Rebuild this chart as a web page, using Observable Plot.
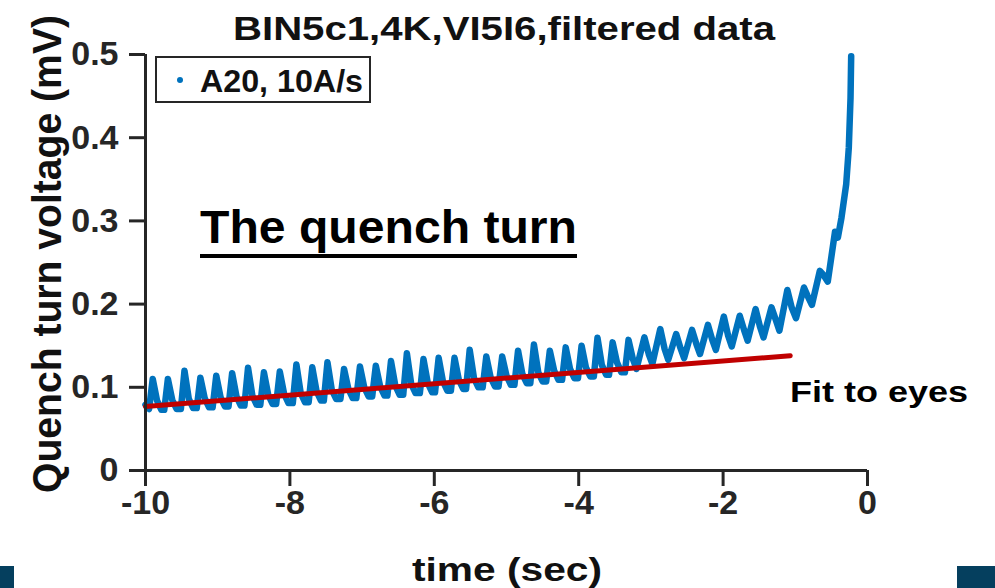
<!DOCTYPE html>
<html><head><meta charset="utf-8">
<script src="https://cdn.jsdelivr.net/npm/d3@7"></script>
<script src="https://cdn.jsdelivr.net/npm/@observablehq/plot@0.6"></script>
<style>
html,body{margin:0;padding:0;background:#fff;overflow:hidden;}
#wrap{position:relative;width:995px;height:588px;overflow:hidden;}
#wrap g[aria-label$="tick label"], #wrap g[aria-label$="tick label"] text {font-size:34px !important;font-weight:bold !important;font-family:'Liberation Sans', Arial, sans-serif !important;}
</style></head><body><div id="wrap"></div>
<script>
// ---- data ----
const xTicks = [-10, -8, -6, -4, -2, 0];
const yTicks = [0, 0.1, 0.2, 0.3, 0.4, 0.5];
const yTickLabels = ["0", "0.1", "0.2", "0.3", "0.4", "0.5"];

// A20, 10A/s — quench turn voltage (mV) vs time (s), vertices
const timeSec = [
-10.00, -9.95,
-9.90, -9.84, -9.78, -9.74,
-9.69, -9.63, -9.57, -9.51,
-9.46, -9.40, -9.34, -9.29,
-9.24, -9.18, -9.12, -9.07,
-9.02, -8.96, -8.90, -8.85,
-8.80, -8.74, -8.68, -8.63,
-8.58, -8.52, -8.46, -8.41,
-8.36, -8.30, -8.24, -8.19,
-8.14, -8.08, -8.02, -7.96,
-7.91, -7.85, -7.79, -7.74,
-7.69, -7.63, -7.57, -7.53,
-7.48, -7.42, -7.36, -7.30,
-7.25, -7.19, -7.13, -7.08,
-7.03, -6.97, -6.91, -6.86,
-6.81, -6.75, -6.69, -6.65,
-6.60, -6.54, -6.48, -6.43,
-6.38, -6.32, -6.26, -6.20,
-6.15, -6.09, -6.03, -5.99,
-5.94, -5.88, -5.82, -5.77,
-5.72, -5.66, -5.60, -5.56,
-5.51, -5.45, -5.39, -5.33,
-5.28, -5.22, -5.16, -5.11,
-5.06, -5.00, -4.94, -4.89,
-4.84, -4.78, -4.72, -4.67,
-4.62, -4.56, -4.50, -4.45,
-4.40, -4.34, -4.28, -4.23,
-4.18, -4.12, -4.06, -4.01,
-3.96, -3.90, -3.84, -3.79,
-3.74, -3.68, -3.62, -3.58,
-3.53, -3.47, -3.41, -3.36,
-3.31, -3.25, -3.20,
-3.09, -3.03, -2.98,
-2.87, -2.81, -2.76,
-2.65, -2.59, -2.54,
-2.43, -2.37, -2.32,
-2.21, -2.15, -2.10,
-1.99, -1.93, -1.88,
-1.77, -1.71, -1.66,
-1.55, -1.49, -1.44,
-1.33, -1.27, -1.22,
-1.11, -1.05, -0.99,
-0.88, -0.83, -0.77,
-0.66, -0.61, -0.55,
-0.45, -0.41, -0.36, -0.295, -0.259, -0.235, -0.226
];
const quenchMV = [
0.079, 0.074,
0.110, 0.084, 0.073, 0.073,
0.110, 0.085, 0.074, 0.074,
0.120, 0.086, 0.075, 0.075,
0.1115, 0.087, 0.076, 0.076,
0.114, 0.088, 0.077, 0.077,
0.117, 0.089, 0.078, 0.078,
0.1235, 0.090, 0.079, 0.079,
0.118, 0.091, 0.080, 0.080,
0.119, 0.092, 0.081, 0.081,
0.1275, 0.093, 0.082, 0.082,
0.124, 0.095, 0.084, 0.084,
0.130, 0.097, 0.086, 0.086,
0.122, 0.098, 0.087, 0.087,
0.125, 0.100, 0.089, 0.089,
0.126, 0.101, 0.090, 0.090,
0.1315, 0.102, 0.091, 0.091,
0.141, 0.104, 0.093, 0.093,
0.134, 0.105, 0.094, 0.094,
0.1355, 0.107, 0.096, 0.096,
0.1355, 0.109, 0.098, 0.098,
0.145, 0.111, 0.100, 0.100,
0.137, 0.112, 0.101, 0.101,
0.137, 0.114, 0.103, 0.103,
0.144, 0.116, 0.105, 0.105,
0.1515, 0.118, 0.107, 0.107,
0.144, 0.120, 0.109, 0.109,
0.148, 0.122, 0.111, 0.111,
0.150, 0.124, 0.113, 0.113,
0.1595, 0.127, 0.115, 0.115,
0.154, 0.130, 0.118, 0.118,
0.157, 0.134, 0.122,
0.160, 0.140, 0.128,
0.170, 0.146, 0.133,
0.164, 0.147, 0.135,
0.169, 0.152, 0.140,
0.175, 0.157, 0.145,
0.185, 0.162, 0.149,
0.186, 0.169, 0.156,
0.194, 0.173, 0.160,
0.196, 0.181, 0.168,
0.217, 0.196, 0.183,
0.220, 0.210, 0.199,
0.240, 0.235, 0.227,
0.287, 0.280, 0.304, 0.344, 0.388, 0.448, 0.498
];

// "Fit to eyes" straight line
const fitTime = [-10.0, -1.07];
const fitMV = [0.077, 0.138];

const seriesName = "A20, 10A/s";
const titleText = "BIN5c1,4K,VI5I6,filtered data";
const xLabel = "time (sec)";
const yLabel = "Quench turn voltage (mV)";
const noteQuench = "The quench turn";
const noteFit = "Fit to eyes";

// ---- chart ----
const F = "'Liberation Sans', Arial, Helvetica, sans-serif";
const INK = "#262626";
const data = timeSec.map((t, i) => ({t, v: quenchMV[i]}));
const fit = fitTime.map((t, i) => ({t, v: fitMV[i]}));

const plot = Plot.plot({
  width: 995, height: 588,
  marginLeft: 145, marginRight: 128, marginTop: 54, marginBottom: 118,
  style: {fontFamily: F, fontWeight: "bold", fontSize: "34px", color: INK, background: "#fff", overflow: "visible", maxWidth: "none"},
  x: {domain: [-10, 0]},
  y: {domain: [0, 0.5]},
  marks: [
    Plot.line(data, {x: "t", y: "v", stroke: "#0072BD", strokeWidth: 6.5, strokeLinejoin: "round", strokeLinecap: "round"}),
    Plot.line(fit, {x: "t", y: "v", stroke: "#C00000", strokeWidth: 5}),
    Plot.axisX({ticks: xTicks, tickFormat: d => String(d), tickSize: 16, tickPadding: 3, strokeWidth: 3, stroke: INK, label: null}),
    Plot.axisY({ticks: yTicks, tickFormat: d => yTickLabels[yTicks.indexOf(d)], tickSize: 16, tickPadding: 11, strokeWidth: 3, stroke: INK, label: null}),
    Plot.ruleX([-10], {stroke: INK, strokeWidth: 3}),
    Plot.ruleY([0], {stroke: INK, strokeWidth: 3})
  ]
});
document.getElementById("wrap").appendChild(plot);

// ---- annotations, labels, legend ----
const svg = d3.select(plot);
function txt(s, x, y, size, len, anchor, fill, transform) {
  const t = svg.append("text").text(s)
    .style("font-family", F).style("font-weight", "bold").style("font-size", size + "px")
    .attr("fill", fill || "#111").attr("text-anchor", anchor || "start");
  if (transform) t.attr("transform", transform); else t.attr("x", x).attr("y", y);
  if (len) t.attr("textLength", len).attr("lengthAdjust", "spacingAndGlyphs");
  return t;
}
txt(titleText, 504, 40, 34, 542, "middle");
txt(xLabel, 507, 581, 34, 190, "middle");
txt(yLabel, 0, 0, 40, 478, "middle", "#111", "translate(61,254) rotate(-90)");
txt(noteQuench, 200, 243, 47, 377, "start", "#000");
svg.append("rect").attr("x", 200).attr("y", 254).attr("width", 377).attr("height", 4).attr("fill", "#000");
txt(noteFit, 790, 402, 29, 178, "start", "#000");

// legend
svg.append("rect").attr("x", 156).attr("y", 57).attr("width", 214).attr("height", 45)
  .attr("fill", "#fff").attr("stroke", INK).attr("stroke-width", 2);
svg.append("circle").attr("cx", 180).attr("cy", 80).attr("r", 3).attr("fill", "#0072BD");
txt(seriesName, 200, 92, 32, 163, "start", "#111");

// slide decorations
svg.append("rect").attr("x", 0).attr("y", 566).attr("width", 14).attr("height", 22).attr("fill", "#053F5E");
svg.append("rect").attr("x", 957).attr("y", 566).attr("width", 38).attr("height", 22).attr("fill", "#053F5E");
</script></body></html>
